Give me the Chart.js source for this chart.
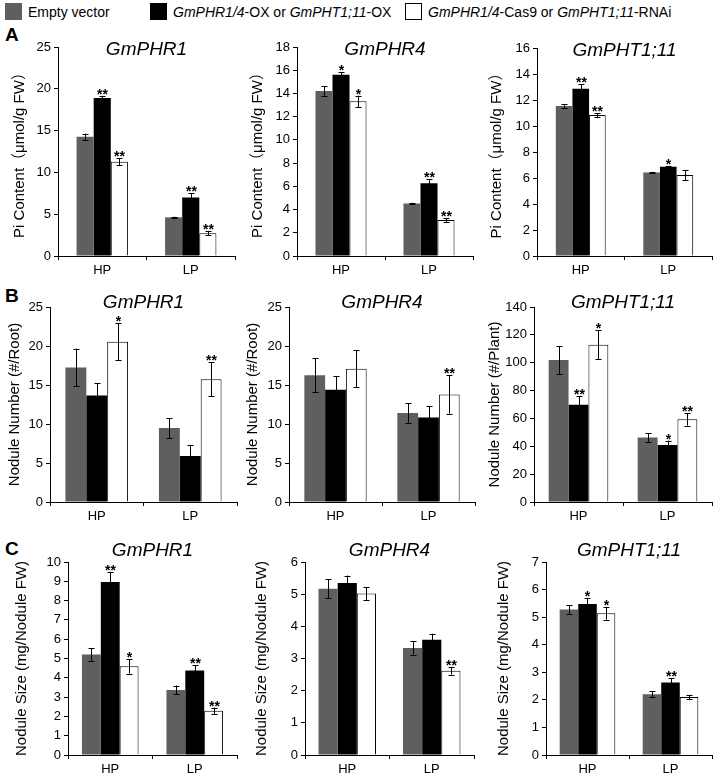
<!DOCTYPE html>
<html>
<head>
<meta charset="utf-8">
<script src="https://cdn.jsdelivr.net/npm/chart.js@4"></script>
<style>
  body { margin: 0; background: #fff; font-family: 'Liberation Sans', Arial, sans-serif; }
  #fig { position: relative; width: 717px; height: 775px; overflow: hidden; }
  canvas { position: absolute; }
  .legend { position: absolute; top: 3px; font-size: 14px; display: flex; align-items: center; white-space: nowrap; }
  .sw { display: inline-block; width: 17px; height: 17px; margin-right: 6px; box-sizing: border-box; }
  .letter { position: absolute; font-weight: bold; font-size: 19px; }
</style>
</head>
<body>
<div id="fig">
  <div class="legend" style="left:5px"><span class="sw" style="background:#5f5f5f"></span>Empty vector</div>
  <div class="legend" style="left:150px"><span class="sw" style="background:#000"></span><i>GmPHR1/4</i>-OX or&nbsp;<i>GmPHT1;11</i>-OX</div>
  <div class="legend" style="left:405px"><span class="sw" style="background:#fff;border:1px solid #000"></span><i>GmPHR1/4</i>-Cas9 or&nbsp;<i>GmPHT1;11</i>-RNAi</div>
  <div class="letter" style="left:5px;top:24px">A</div>
  <div class="letter" style="left:5px;top:285px">B</div>
  <div class="letter" style="left:5px;top:538px">C</div>
</div>
<script>
// conditions on the x axis
const groups = ['HP', 'LP'];
const seriesNames = ['Empty vector', 'OX', 'Cas9/RNAi'];
const seriesColors = ['#5f5f5f', '#000000', '#ffffff'];

// values are [series][HP, LP]
// A - Pi content
const piPHR1 = [[14.25, 4.63], [18.9, 7.0], [11.28, 2.73]];
const piPHR1Err = [[0.4, 0.08], [0.27, 0.5], [0.4, 0.27]];
const piPHR1Sig = [['', ''], ['**', '**'], ['**', '**']];

const piPHR4 = [[14.2, 4.53], [15.6, 6.27], [13.32, 3.09]];
const piPHR4Err = [[0.4, 0.06], [0.25, 0.33], [0.48, 0.15]];
const piPHR4Sig = [['', ''], ['*', '**'], ['*', '**']];

const piPHT = [[11.54, 6.42], [12.86, 6.87], [10.85, 6.23]];
const piPHTErr = [[0.16, 0.05], [0.34, 0.06], [0.15, 0.38]];
const piPHTSig = [['', ''], ['**', '*'], ['**', '']];

// B - nodule number
const numPHR1 = [[17.24, 9.48], [13.66, 5.9], [20.56, 15.73]];
const numPHR1Err = [[2.41, 1.29], [1.55, 1.42], [2.41, 2.16]];
const numPHR1Sig = [['', ''], ['', ''], ['*', '**']];

const numPHR4 = [[16.25, 11.42], [14.4, 10.82], [17.07, 13.79]];
const numPHR4Err = [[2.16, 1.27], [1.72, 1.49], [2.37, 2.48]];
const numPHR4Sig = [['', ''], ['', ''], ['', '**']];

const numPHT = [[101.9, 46.3], [69.8, 41.0], [112.9, 59.4]];
const numPHTErr = [[10.1, 3.1], [6.0, 3.1], [10.4, 4.5]];
const numPHTSig = [['', ''], ['**', '*'], ['*', '**']];

// C - nodule size
const sizePHR1 = [[5.21, 3.37], [8.97, 4.38], [4.6, 2.29]];
const sizePHR1Err = [[0.32, 0.23], [0.52, 0.26], [0.38, 0.17]];
const sizePHR1Sig = [['', ''], ['**', '**'], ['*', '**']];

const sizePHR4 = [[5.17, 3.33], [5.35, 3.58], [5.02, 2.62]];
const sizePHR4Err = [[0.29, 0.21], [0.23, 0.19], [0.2, 0.12]];
const sizePHR4Sig = [['', ''], ['', ''], ['', '**']];

const sizePHT = [[5.28, 2.2], [5.48, 2.63], [5.14, 2.1]];
const sizePHTErr = [[0.16, 0.11], [0.2, 0.16], [0.23, 0.08]];
const sizePHTSig = [['', ''], ['*', '**'], ['*', '']];

const piLabel = 'Pi Content（μmol/g FW）';
const rootLabel = 'Nodule Number (#/Root)';
const plantLabel = 'Nodule Number (#/Plant)';
const sizeLabel = 'Nodule Size (mg/Nodule FW)';

Chart.defaults.font.family = "'Liberation Sans', Arial, 'Noto Sans CJK SC', sans-serif";
Chart.defaults.color = '#000';

// box: [canvasLeft, axisX, rightX, plotTop, zeroY]
const panels = [
  { title: 'GmPHR1', yTitle: piLabel, max: 25, step: 5, vals: piPHR1, errs: piPHR1Err, sig: piPHR1Sig, box: [8, 58, 235, 47, 256], cat: 0.58, tDy: 3 },
  { title: 'GmPHR4', yTitle: piLabel, max: 18, step: 2, vals: piPHR4, errs: piPHR4Err, sig: piPHR4Sig, box: [246, 297, 473, 47, 256], cat: 0.58, tDy: 3 },
  { title: 'GmPHT1;11', yTitle: piLabel, max: 16, step: 2, vals: piPHT, errs: piPHTErr, sig: piPHTSig, box: [485, 537, 712, 48, 256], cat: 0.57, tDy: 3 },
  { title: 'GmPHR1', yTitle: rootLabel, max: 25, step: 5, vals: numPHR1, errs: numPHR1Err, sig: numPHR1Sig, box: [3, 50, 237, 307, 502], cat: 0.67, tDy: -4 },
  { title: 'GmPHR4', yTitle: rootLabel, max: 25, step: 5, vals: numPHR4, errs: numPHR4Err, sig: numPHR4Sig, box: [241, 289, 475, 307, 502], cat: 0.67, tDy: -4 },
  { title: 'GmPHT1;11', yTitle: plantLabel, max: 140, step: 20, vals: numPHT, errs: numPHTErr, sig: numPHTSig, box: [483, 534, 712, 307, 502], cat: 0.67, tDy: -4 },
  { title: 'GmPHR1', yTitle: sizeLabel, max: 10, step: 1, vals: sizePHR1, errs: sizePHR1Err, sig: sizePHR1Sig, box: [10, 68, 237, 562, 755], cat: 0.67, tDy: -11 },
  { title: 'GmPHR4', yTitle: sizeLabel, max: 6, step: 1, vals: sizePHR4, errs: sizePHR4Err, sig: sizePHR4Sig, box: [250, 305, 474, 562, 755], cat: 0.68, tDy: -11 },
  { title: 'GmPHT1;11', yTitle: sizeLabel, max: 7, step: 1, vals: sizePHT, errs: sizePHTErr, sig: sizePHTSig, box: [492, 546, 712, 562, 755], cat: 0.67, tDy: -11 },
];

// error bars, significance stars and the italic gene name
const extras = {
  id: 'extras',
  afterDatasetsDraw(chart) {
    const { ctx, chartArea } = chart;
    const y = chart.scales.y;
    ctx.save();
    chart.data.datasets.forEach((ds, i) => {
      chart.getDatasetMeta(i).data.forEach((bar, j) => {
        const v = ds.data[j], e = ds.errs[j];
        const top = y.getPixelForValue(v + e), bot = y.getPixelForValue(v - e);
        const x = Math.round(bar.x) + 0.5;
        ctx.strokeStyle = '#000';
        ctx.lineWidth = 1;
        ctx.beginPath();
        ctx.moveTo(x, top); ctx.lineTo(x, bot);
        ctx.moveTo(x - 3, Math.round(top) + 0.5); ctx.lineTo(x + 3, Math.round(top) + 0.5);
        ctx.moveTo(x - 3, Math.round(bot) + 0.5); ctx.lineTo(x + 3, Math.round(bot) + 0.5);
        ctx.stroke();
        if (ds.sig[j]) {
          ctx.fillStyle = '#000';
          ctx.font = "bold 14px 'Liberation Sans', Arial";
          ctx.textAlign = 'center';
          ctx.textBaseline = 'alphabetic';
          ctx.fillText(ds.sig[j], x, top + 3);
        }
      });
    });
    const p = chart.options.plugins.extras;
    ctx.fillStyle = '#000';
    ctx.font = "italic 19px 'Liberation Sans', Arial";
    ctx.textAlign = 'center';
    ctx.textBaseline = 'middle';
    ctx.fillText(p.title, (chartArea.left + chartArea.right) / 2, chartArea.top + p.tDy);
    ctx.restore();
  }
};

const fig = document.getElementById('fig');
const padTop = 26, xH = 24, padRight = 4;

panels.forEach(p => {
  const [cl, ax, rx, pt, zy] = p.box;
  const canvas = document.createElement('canvas');
  const top = pt - padTop;
  canvas.width = rx + padRight - cl;
  canvas.height = zy + xH - top;
  canvas.style.left = cl + 'px';
  canvas.style.top = top + 'px';
  fig.appendChild(canvas);

  new Chart(canvas, {
    type: 'bar',
    data: {
      labels: groups,
      datasets: p.vals.map((vals, i) => ({
        label: seriesNames[i],
        data: vals,
        errs: p.errs[i],
        sig: p.sig[i],
        backgroundColor: seriesColors[i],
        borderColor: '#000',
        borderWidth: i === 2 ? 1 : 0,
        barPercentage: 1,
        categoryPercentage: p.cat,
      })),
    },
    options: {
      responsive: false,
      devicePixelRatio: 1,
      animation: false,
      layout: { padding: { top: padTop, right: padRight, left: 0, bottom: 0 } },
      plugins: {
        legend: { display: false },
        tooltip: { enabled: false },
        extras: { title: p.title, tDy: p.tDy },
      },
      scales: {
        x: {
          offset: true,
          grid: { offset: true, drawOnChartArea: false, tickLength: 4, color: '#000' },
          border: { color: '#000' },
          ticks: { font: { size: 13 }, padding: 3 },
          afterFit: s => { s.height = xH; },
        },
        y: {
          min: 0,
          max: p.max,
          ticks: { stepSize: p.step, font: { size: 13 }, padding: 3 },
          grid: { drawOnChartArea: false, tickLength: 4, color: '#000' },
          border: { color: '#000' },
          title: { display: true, text: p.yTitle, font: { size: 15 }, padding: { top: 3, bottom: 0 } },
          afterFit: s => { s.width = ax - cl; },
        },
      },
    },
    plugins: [extras],
  });
});
</script>
</body>
</html>
